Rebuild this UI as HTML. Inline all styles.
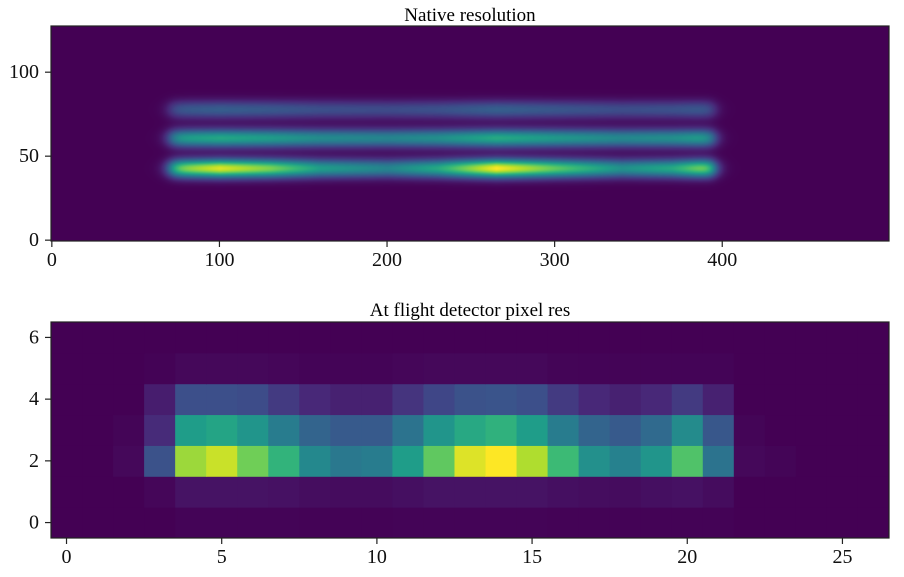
<!DOCTYPE html>
<html><head><meta charset="utf-8"><style>
body{margin:0;background:#fff;width:904px;height:577px;overflow:hidden;font-family:"Liberation Serif",serif}
</style></head><body>
<svg id="fig" width="904" height="577" xmlns="http://www.w3.org/2000/svg" style="position:absolute;left:0;top:0">
<text x="470" y="21" font-size="19" text-anchor="middle" font-family="Liberation Serif,serif">Native resolution</text>
<text x="470" y="316" font-size="19" text-anchor="middle" font-family="Liberation Serif,serif">At flight detector pixel res</text>
<foreignObject x="51" y="26" width="838" height="215"><canvas xmlns="http://www.w3.org/1999/xhtml" id="ctop" width="838" height="215"></canvas></foreignObject>
<g id="cells"></g>
<rect x="51" y="26" width="838" height="215" fill="none" stroke="#222" stroke-width="1.2"/>
<rect x="51" y="322" width="838" height="216" fill="none" stroke="#222" stroke-width="1.2"/>
<g id="ticks" font-size="20" font-family="Liberation Serif,serif" fill="#111"></g>
</svg>
<script>
// binned data (rows y=0..6, cols 0..26)
const row0=[0,0,0,0,0.008,0.008,0.008,0.008,0.005,0.005,0.005,0.008,0.008,0.008,0.008,0.008,0.005,0.005,0.005,0.005,0.005,0.005,0,0,0,0,0];
const row1=[0,0,0,0.015,0.05,0.05,0.05,0.045,0.035,0.03,0.03,0.04,0.05,0.05,0.05,0.05,0.04,0.035,0.03,0.04,0.045,0.03,0,0,0,0,0];
const row2=[0,0,0.02,0.25,0.85,0.92,0.78,0.65,0.47,0.40,0.42,0.55,0.75,0.95,1.0,0.88,0.68,0.50,0.44,0.52,0.72,0.38,0.02,0.01,0,0,0];
const row3=[0,0,0.01,0.12,0.55,0.58,0.52,0.42,0.32,0.28,0.28,0.38,0.52,0.60,0.64,0.55,0.42,0.32,0.28,0.34,0.48,0.27,0.01,0,0,0,0];
const row4=[0,0,0,0.08,0.24,0.24,0.23,0.17,0.11,0.09,0.09,0.15,0.21,0.25,0.26,0.24,0.17,0.11,0.09,0.11,0.17,0.09,0,0,0,0,0];
const row5=[0,0,0,0.005,0.02,0.02,0.02,0.015,0.008,0.008,0.008,0.015,0.02,0.02,0.02,0.02,0.01,0.008,0.008,0.008,0.008,0.008,0,0,0,0,0];
const row6=[0,0,0,0,0,0,0,0,0,0,0,0,0,0,0,0,0,0,0,0,0,0,0,0,0,0,0];
const rows=[row0,row1,row2,row3,row4,row5,row6];
// native image description
const bandCenters=[43,61,78];
const bandAmps=[1.0,0.6,0.3];
const profX=[70,100,130,160,200,230,265,300,340,370,393];
const profV=[0.75,0.95,0.8,0.55,0.45,0.6,1.0,0.75,0.5,0.6,0.85];
const topXTicks=[0,100,200,300,400];
const topYTicks=[0,50,100];
const botXTicks=[0,5,10,15,20,25];
const botYTicks=[0,2,4,6];

const V=[[68,1,84],[72,40,120],[62,74,137],[49,104,142],[38,130,142],[31,158,137],[53,183,121],[110,206,88],[181,222,43],[253,231,37]];
function vir(t){t=Math.max(0,Math.min(1,t))*9;const i=Math.min(8,Math.floor(t)),f=t-i;const a=V[i],b=V[i+1];return [0,1,2].map(k=>Math.round(a[k]+(b[k]-a[k])*f));}
const NS="http://www.w3.org/2000/svg";
const tx=v=>51+(v+0.5)*838/500, ty=v=>241-(v+0.5)*215/128;
const bx=v=>51+(v+0.5)*838/27, by=v=>538-(v+0.5)*216/7;

function prof(x){if(x<=profX[0])return profV[0];for(let i=0;i<profX.length-1;i++){if(x<=profX[i+1]){const f=(x-profX[i])/(profX[i+1]-profX[i]);return profV[i]+(profV[i+1]-profV[i])*f;}}return profV[profV.length-1];}
function edge(x){const s=a=>1/(1+Math.exp(-a));return s((x-70)/2.5)*s((395-x)/2.5);}
const ctx=document.getElementById('ctop').getContext('2d');
const img=ctx.createImageData(838,215);
for(let py=0;py<215;py++){const yv=(215-py)/215*128-0.5;
 for(let px=0;px<838;px++){const xv=px/838*500-0.5;const e=edge(xv),p=prof(xv);let v=0;
  for(let b=0;b<bandCenters.length;b++){const amp=bandAmps[b]*(b==0?p:(0.55+0.45*p));const d=yv-bandCenters[b];v+=amp*Math.exp(-d*d/(2*3.8*3.8));}
  v=v*e;
  const c=vir(v);const o=(py*838+px)*4;img.data[o]=c[0];img.data[o+1]=c[1];img.data[o+2]=c[2];img.data[o+3]=255;}}
ctx.putImageData(img,0,0);

const cells=document.getElementById('cells');
rows.forEach((r,yi)=>r.forEach((v,xi)=>{const el=document.createElementNS(NS,'rect');
 
 
 const x0=bx(xi-0.5),x1=bx(xi+0.5),y0=by(yi+0.5),y1=by(yi-0.5);
 el.setAttribute('x',x0);el.setAttribute('y',y0);el.setAttribute('width',x1-x0+0.5);el.setAttribute('height',y1-y0+0.5);
 const c=vir(v);el.setAttribute('fill',`rgb(${c})`);cells.appendChild(el);}));

const tg=document.getElementById('ticks');
function tick(x1,y1,x2,y2,lx,ly,txt,anchor,name){const l=document.createElementNS(NS,'line');
 
 
 l.setAttribute('x1',x1);l.setAttribute('y1',y1);l.setAttribute('x2',x2);l.setAttribute('y2',y2);l.setAttribute('stroke','#222');l.setAttribute('stroke-width','1.2');tg.appendChild(l);
 const t=document.createElementNS(NS,'text');
 
 
 t.setAttribute('x',lx);t.setAttribute('y',ly);t.setAttribute('text-anchor',anchor);t.textContent=txt;tg.appendChild(t);}
topXTicks.forEach(v=>tick(tx(v),241,tx(v),247,tx(v),266,v,'middle','top-x'));
topYTicks.forEach(v=>tick(45,ty(v),51,ty(v),39,ty(v)+6,v,'end','top-y'));
botXTicks.forEach(v=>tick(bx(v),538,bx(v),544,bx(v),563,v,'middle','bottom-x'));
botYTicks.forEach(v=>tick(45,by(v),51,by(v),39,by(v)+6,v,'end','bottom-y'));
</script>
</body></html>
